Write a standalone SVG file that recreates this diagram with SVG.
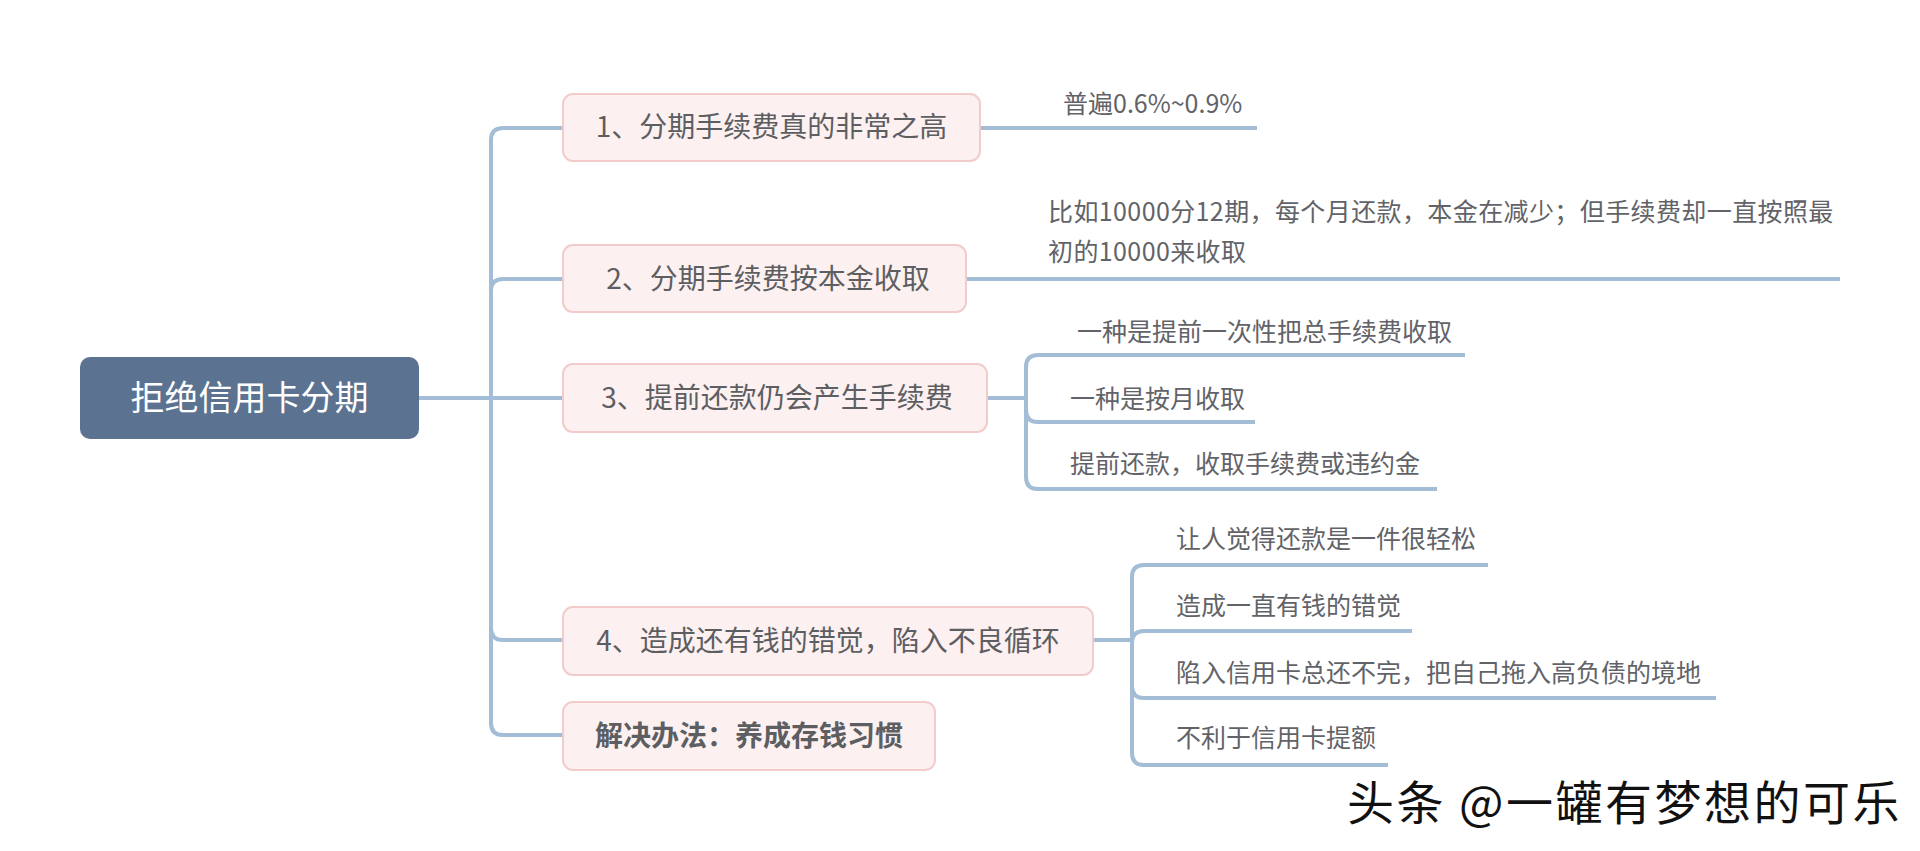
<svg xmlns="http://www.w3.org/2000/svg" width="1920" height="851" viewBox="0 0 1920 851">
<style>
.bg{fill:#ffffff}
.conn{fill:none;stroke:#a2bdd5;stroke-width:4;stroke-linecap:butt;stroke-linejoin:round}
.root{fill:#5b7290}
.roott{font-family:"Noto Sans CJK SC","Noto Sans",sans-serif;font-size:34px;fill:#ffffff;text-anchor:middle}
.box{fill:#fcf0f0;stroke:#f1cccb;stroke-width:2}
.nt{font-family:"Noto Sans CJK SC","Noto Sans",sans-serif;font-size:28px;fill:#5d5e62;text-anchor:middle}
.bold{font-weight:bold}
.ct{font-family:"Noto Sans CJK SC","Noto Sans",sans-serif;font-size:25px;fill:#626368}
.wide{letter-spacing:0.4px}
.wm{font-family:"Noto Sans CJK SC","Noto Sans",sans-serif;font-size:47px;fill:#111111;letter-spacing:2.5px}
</style>
<rect class="bg" x="0" y="0" width="1920" height="851"/>
<g id="connectors">
  <path class="conn" d="M419,398 H563"/>
  <path class="conn" d="M491,398 V140 Q491,128 503,128 H563"/>
  <path class="conn" d="M491,398 V291 Q491,279 503,279 H563"/>
  <path class="conn" d="M491,398 V628 Q491,640 503,640 H563"/>
  <path class="conn" d="M491,398 V723 Q491,735 503,735 H563"/>
  <path class="conn" d="M980,128 H1257"/>
  <path class="conn" d="M966,279 H1840"/>
  <path class="conn" d="M987,398 H1026"/>
  <path class="conn" d="M1026,398 V367 Q1026,355 1038,355 H1465"/>
  <path class="conn" d="M1026,398 V410 Q1026,422 1038,422 H1255"/>
  <path class="conn" d="M1026,398 V477 Q1026,489 1038,489 H1437"/>
  <path class="conn" d="M1093,640 H1132"/>
  <path class="conn" d="M1132,640 V577 Q1132,565 1144,565 H1488"/>
  <path class="conn" d="M1132,640 V643 Q1132,631 1144,631 H1412"/>
  <path class="conn" d="M1132,640 V686 Q1132,698 1144,698 H1716"/>
  <path class="conn" d="M1132,640 V753 Q1132,765 1144,765 H1388"/>
</g>
<g id="root">
  <rect class="root" x="80" y="357" width="339" height="82" rx="10"/>
  <text class="roott" x="249.5" y="410">拒绝信用卡分期</text>
</g>
<g id="n1">
  <rect class="box" x="563" y="94" width="417" height="67" rx="10"/>
  <text class="nt" x="771.5" y="137">1、分期手续费真的非常之高</text>
</g>
<g id="n1c1">
  <text class="ct" x="1063" y="113">普遍0.6%~0.9%</text>
</g>
<g id="n2">
  <rect class="box" x="563" y="245" width="403" height="67" rx="10"/>
  <text class="nt" x="768" y="289">2、分期手续费按本金收取</text>
</g>
<g id="n2c1">
  <text class="ct wide" x="1048" y="221">比如10000分12期，每个月还款，本金在减少；但手续费却一直按照最</text>
  <text class="ct wide" x="1048" y="261">初的10000来收取</text>
</g>
<g id="n3">
  <rect class="box" x="563" y="364" width="424" height="68" rx="10"/>
  <text class="nt" x="777" y="408">3、提前还款仍会产生手续费</text>
</g>
<g id="n3c1"><text class="ct" x="1077" y="341">一种是提前一次性把总手续费收取</text></g>
<g id="n3c2"><text class="ct" x="1070" y="408">一种是按月收取</text></g>
<g id="n3c3"><text class="ct" x="1070" y="473">提前还款，收取手续费或违约金</text></g>
<g id="n4">
  <rect class="box" x="563" y="607" width="530" height="68" rx="10"/>
  <text class="nt" x="828" y="651">4、造成还有钱的错觉，陷入不良循环</text>
</g>
<g id="n4c1"><text class="ct" x="1176" y="548">让人觉得还款是一件很轻松</text></g>
<g id="n4c2"><text class="ct" x="1176" y="615">造成一直有钱的错觉</text></g>
<g id="n4c3"><text class="ct" x="1176" y="682">陷入信用卡总还不完，把自己拖入高负债的境地</text></g>
<g id="n4c4"><text class="ct" x="1176" y="747">不利于信用卡提额</text></g>
<g id="n5">
  <rect class="box" x="563" y="702" width="372" height="68" rx="10"/>
  <text class="nt bold" x="749" y="746">解决办法：养成存钱习惯</text>
</g>
<g id="watermark">
  <text class="wm" x="1347" y="820">头条 @一罐有梦想的可乐</text>
</g>
</svg>
